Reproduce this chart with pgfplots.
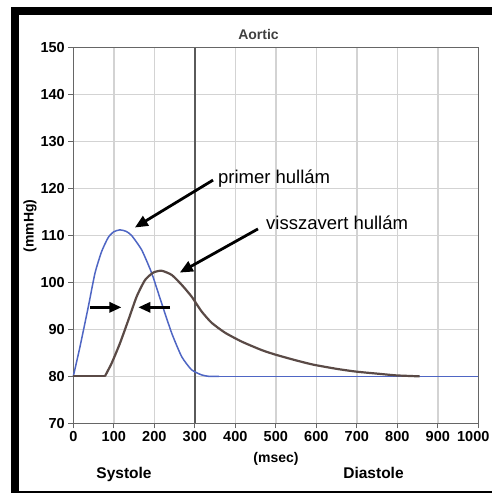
\documentclass[border=0pt]{standalone}
\usepackage{fontspec}
\setmainfont{Liberation Sans}
\usepackage{pgfplots}
\pgfplotsset{compat=1.18}
\usetikzlibrary{arrows.meta}
\definecolor{blueW}{HTML}{4F66C4}
\definecolor{brownW}{HTML}{5A4A46}
\definecolor{gridc}{HTML}{D3D3D3}
\definecolor{axc}{HTML}{666666}
\definecolor{midc}{HTML}{5A5A5A}
\begin{document}
\begin{tikzpicture}
\fill[black] (11pt,0pt) rectangle (492pt,486pt);
\fill[white] (19pt,2pt) rectangle (492pt,478pt);
\begin{axis}[
  at={(73.3pt,69.7pt)}, anchor=south west,
  scale only axis, width=405pt, height=375.6pt,
  xmin=0, xmax=1000, ymin=70, ymax=150,
  xtick={0,100,...,1000}, ytick={70,80,...,150},
  xticklabels={0,100,200,300,400,500,600,700,800,900,{\makebox[0pt][c]{\hspace*{-10pt}1000}}},
  grid=major, major grid style={gridc, line width=1.4pt},
  axis line style={axc, line width=1.3pt},
  tick style={axc, line width=1.3pt},
  tick align=outside, major tick length=5pt,
  tick pos=left,
  ticklabel style={font=\fontsize{14.5}{14.5}\selectfont\bfseries},
  /pgf/number format/assume math mode=true,
  /pgf/number format/1000 sep={},
  clip=false,
]
\draw[midc, line width=2pt] (axis cs:300,70) -- (axis cs:300,150);
\addplot[blueW, line width=1.5pt, smooth, tension=0.35] coordinates {
(0,80) (16.5,86.3) (37,94.8) (53.6,102) (70,106.6) (86.4,109.6) (100,110.8) (115,111.2)
(130,110.9) (144,110.0) (169,106.9) (193.5,102) (218,95.6) (243,89.2) (267.6,84.2)
(292,81.4) (317,80.3) (335,80) (360,80)
};
\addplot[blueW, line width=1.5pt] coordinates {(360,80) (1000,80)};
\addplot[brownW, line width=2.2pt] coordinates {(0,80) (78,80)};
\addplot[brownW, line width=2.2pt, smooth, tension=0.35] coordinates {
(78,80) (94.7,82.8) (115,87.0) (136,92) (156.5,97) (177,100.5)
(197.5,102.1) (218,102.5) (243,101.6) (267.6,99.5) (292,97) (317,93.8)
(341.7,91.4) (374.6,89.3) (415.8,87.4) (465,85.6) (500,84.6) (550,83.4)
(592,82.5) (650,81.6) (699,81.0) (760,80.5) (798,80.2) (855,80)
};
\draw[black, line width=2.8pt, -{Triangle[length=13pt,width=11pt]}] (axis cs:345,121.8) -- (axis cs:152,111.7);
\draw[black, line width=2.8pt, -{Triangle[length=13pt,width=11pt]}] (axis cs:456,111.4) -- (axis cs:263,102.1);
\draw[black, line width=2.8pt, -{Triangle[length=12pt,width=10pt]}] (axis cs:41,94.7) -- (axis cs:119,94.7);
\draw[black, line width=2.8pt, -{Triangle[length=12pt,width=10pt]}] (axis cs:239,94.7) -- (axis cs:160.5,94.7);
\node[anchor=base west, inner sep=0pt, font=\fontsize{18.5}{18.5}\selectfont] at (axis cs:357,121.1) {primer hullám};
\node[anchor=base west, inner sep=0pt, font=\fontsize{18.5}{18.5}\selectfont] at (axis cs:475.8,111.2) {visszavert hullám};
\end{axis}
\node[anchor=base, inner sep=0pt, font=\fontsize{14}{14}\selectfont\bfseries, text=black!75] at (258.5pt,453.7pt) {Aortic};
\node[rotate=90, inner sep=0pt, font=\fontsize{14}{14}\selectfont\bfseries] at (30pt,267pt) {(mmHg)};
\node[inner sep=0pt, font=\fontsize{14}{14}\selectfont\bfseries] at (276pt,34pt) {(msec)};
\node[anchor=base, inner sep=0pt, font=\fontsize{15.5}{15.5}\selectfont\bfseries] at (124pt,15pt) {Systole};
\node[anchor=base, inner sep=0pt, font=\fontsize{15.5}{15.5}\selectfont\bfseries] at (373.5pt,15pt) {Diastole};
\pgfresetboundingbox
\useasboundingbox (0pt,0pt) rectangle (492pt,493pt);
\end{tikzpicture}
\end{document}
